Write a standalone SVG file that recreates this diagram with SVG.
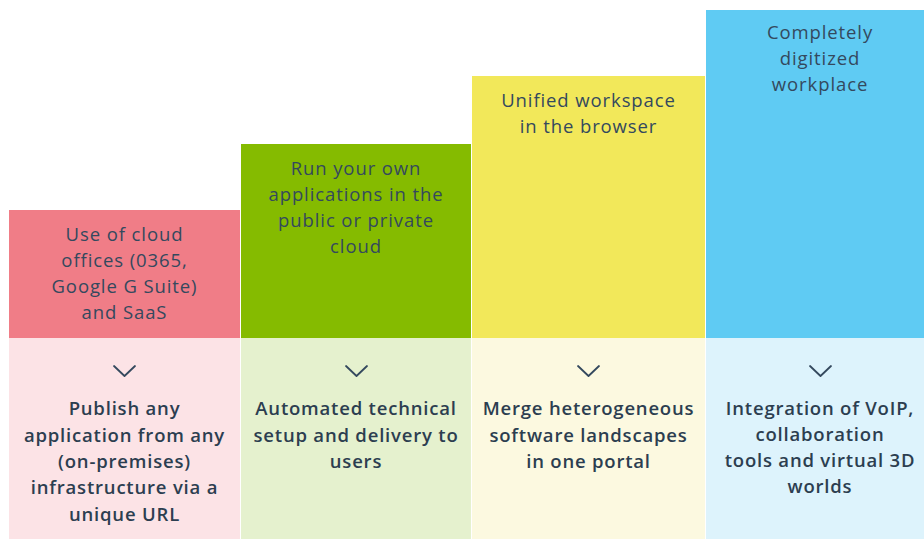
<svg xmlns="http://www.w3.org/2000/svg" width="924" height="539" viewBox="0 0 924 539">
<style>
.t{font-family:"Open Sans","Noto Sans",Lato,sans-serif;font-size:18.5px;letter-spacing:0.9px;fill:#34495e;text-anchor:middle}
.b{font-family:"Open Sans","Noto Sans",Lato,sans-serif;font-size:18.5px;font-weight:600;letter-spacing:0.8px;fill:#2c3e50;text-anchor:middle}
.chev{fill:none;stroke:#34495e;stroke-width:1.8;stroke-linecap:round;stroke-linejoin:round}
</style>
<rect width="924" height="539" fill="#ffffff"/>
<g id="col1">
<rect x="9" y="210" width="231" height="128" fill="#f07d87"/>
<rect x="9" y="338" width="231" height="201" fill="#fce3e6"/>
<text class="t" x="124.5"><tspan x="124.5" y="241">Use of cloud</tspan><tspan x="124.5" y="267">offices (0365,</tspan><tspan x="124.5" y="293">Google G Suite)</tspan><tspan x="124.5" y="319">and SaaS</tspan></text>
<text class="b" x="124.5"><tspan x="124.5" y="415">Publish any</tspan><tspan x="124.5" y="442">application from any</tspan><tspan x="124.5" y="468">(on-premises)</tspan><tspan x="124.5" y="494">infrastructure via a</tspan><tspan x="124.5" y="521">unique URL</tspan></text>
</g>
<g id="col2">
<rect x="241" y="144" width="230" height="194" fill="#85bb00"/>
<rect x="241" y="338" width="230" height="201" fill="#e5f1ce"/>
<text class="t" x="356"><tspan x="356" y="175">Run your own</tspan><tspan x="356" y="201">applications in the</tspan><tspan x="356" y="227">public or private</tspan><tspan x="356" y="253">cloud</tspan></text>
<text class="b" x="356"><tspan x="356" y="415">Automated technical</tspan><tspan x="356" y="442">setup and delivery to</tspan><tspan x="356" y="468">users</tspan></text>
</g>
<g id="col3">
<rect x="472" y="76" width="233" height="262" fill="#f2e85a"/>
<rect x="472" y="338" width="233" height="201" fill="#fcf9e0"/>
<text class="t" x="588.5"><tspan x="588.5" y="107">Unified workspace</tspan><tspan x="588.5" y="133">in the browser</tspan></text>
<text class="b" x="588.5"><tspan x="588.5" y="415">Merge heterogeneous</tspan><tspan x="588.5" y="442">software landscapes</tspan><tspan x="588.5" y="468">in one portal</tspan></text>
</g>
<g id="col4">
<rect x="706" y="10" width="218" height="328" fill="#5fcbf3"/>
<rect x="706" y="338" width="218" height="201" fill="#ddf3fc"/>
<text class="t" x="820"><tspan x="820" y="39">Completely</tspan><tspan x="820" y="65">digitized</tspan><tspan x="820" y="91">workplace</tspan></text>
<text class="b" x="820"><tspan x="820" y="415">Integration of VoIP,</tspan><tspan x="820" y="441">collaboration</tspan><tspan x="820" y="467">tools and virtual 3D</tspan><tspan x="820" y="493">worlds</tspan></text>
</g>
<g id="connectors">
<path class="chev" d="M114 366 L124.5 376 L135 366"/>
<path class="chev" d="M346 366 L356.5 376 L367 366"/>
<path class="chev" d="M578 366 L588.5 376 L599 366"/>
<path class="chev" d="M810 366 L820.5 376 L831 366"/>
</g>
</svg>
